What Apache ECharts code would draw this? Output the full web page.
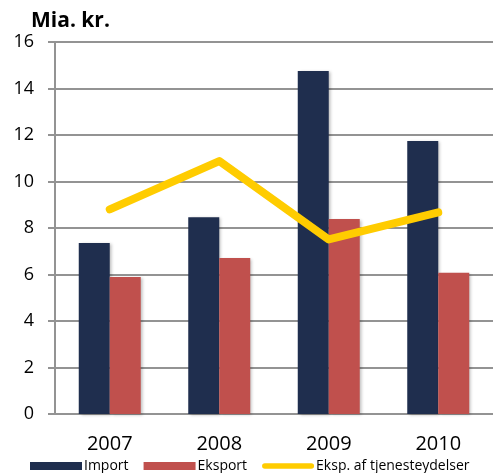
<!DOCTYPE html>
<html>
<head>
<meta charset="utf-8">
<script src="https://cdn.jsdelivr.net/npm/echarts@6/dist/echarts.min.js"></script>
<style>
  html, body { margin: 0; padding: 0; background: #fff; }
  #chart { width: 493px; height: 473px; }
</style>
</head>
<body>
<div id="chart"></div>
<script>
var years = ['2007', '2008', '2009', '2010']
var importVals = [7.35, 8.46, 14.75, 11.74]
var eksportVals = [5.89, 6.71, 8.39, 6.08]
var tjenesteVals = [8.8, 10.88, 7.51, 8.67]
var yTicks = [0, 2, 4, 6, 8, 10, 12, 14, 16]

var font = '"Open Sans", sans-serif'
var gridGray = '#939393'

var chart = echarts.init(document.getElementById('chart'))
chart.setOption({
  animation: false,
  textStyle: { fontFamily: font },
  title: {
    text: 'Mia. kr.',
    left: 26,
    top: 6,
    textStyle: { fontFamily: font, fontSize: 21, fontWeight: 'bold', color: '#000' }
  },
  legend: {
    left: 25,
    top: 454,
    itemWidth: 52,
    itemHeight: 8,
    itemGap: 15,
    textStyle: { fontFamily: font, fontSize: 14, color: '#000', padding: [0, 0, 0, -3] },
    data: [
      { name: 'Import', icon: 'rect' },
      { name: 'Eksport', icon: 'rect' },
      { name: 'Eksp. af tjenesteydelser', icon: 'path://M3,0 L53,0 A3,3 0 0 1 53,6 L3,6 A3,3 0 0 1 3,0 Z' }
    ]
  },
  grid: { left: 55, top: 42, width: 443, height: 372 },
  xAxis: {
    type: 'category',
    data: years,
    axisLine: { lineStyle: { color: gridGray, width: 2 } },
    axisTick: { length: 6, lineStyle: { color: gridGray, width: 2 } },
    axisLabel: { fontFamily: font, fontSize: 20, color: '#000', margin: 20 }
  },
  yAxis: {
    type: 'value',
    min: yTicks[0],
    max: yTicks[yTicks.length - 1],
    interval: 2,
    axisLine: { show: true, lineStyle: { color: gridGray, width: 2 } },
    axisTick: { show: true, length: 7, lineStyle: { color: gridGray, width: 2 } },
    axisLabel: { fontFamily: font, fontSize: 18, color: '#000', margin: 21 },
    splitLine: { lineStyle: { color: gridGray, width: 2 } }
  },
  series: [
    {
      name: 'Import',
      type: 'bar',
      data: importVals,
      barWidth: 31,
      barGap: '0%',
      itemStyle: {
        color: '#1f2e4e',
        shadowBlur: 3,
        shadowOffsetX: 2,
        shadowOffsetY: 1,
        shadowColor: 'rgba(0,0,0,0.25)'
      }
    },
    {
      name: 'Eksport',
      type: 'bar',
      data: eksportVals,
      barWidth: 31,
      barGap: '0%',
      itemStyle: {
        color: '#c0504d',
        shadowBlur: 3,
        shadowOffsetX: 2,
        shadowOffsetY: 1,
        shadowColor: 'rgba(0,0,0,0.25)'
      }
    },
    {
      name: 'Eksp. af tjenesteydelser',
      type: 'line',
      data: tjenesteVals,
      symbol: 'none',
      color: '#ffcc00',
      lineStyle: { color: '#ffcc00', width: 8, cap: 'round', join: 'round' }
    }
  ]
})
</script>
</body>
</html>
